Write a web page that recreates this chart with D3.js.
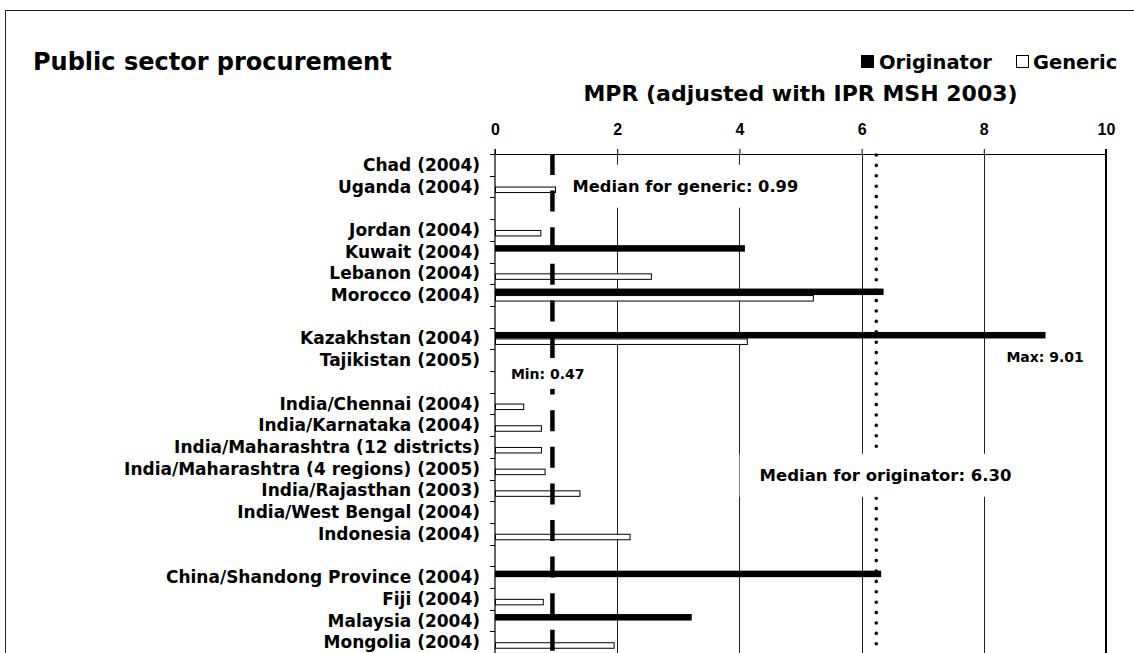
<!DOCTYPE html>
<html>
<head>
<meta charset="utf-8">
<title>Public sector procurement</title>
<style>
  body{margin:0;background:#fff;}
  svg{display:block;font-family:"DejaVu Sans",Verdana,sans-serif;font-weight:bold;}
  .frame{fill:none;stroke:#222;stroke-width:1;}
  .grid{stroke:#222;stroke-width:1;}
  .axis path,.axis line{stroke:#000;}
  .rowlab{font-size:17px;}
  .orig{fill:#000;}
  .gen{fill:#fff;stroke:#000;stroke-width:1;}
</style>
<script src="https://cdn.jsdelivr.net/npm/d3@7"></script>
</head>
<body>
<svg width="1134" height="653"></svg>
<script>
// rows of the chart, "" = blank spacer row
var labels = ["Chad (2004)", "Uganda (2004)", "",
  "Jordan (2004)", "Kuwait (2004)", "Lebanon (2004)", "Morocco (2004)", "",
  "Kazakhstan (2004)", "Tajikistan (2005)", "",
  "India/Chennai (2004)", "India/Karnataka (2004)", "India/Maharashtra (12 districts)",
  "India/Maharashtra (4 regions) (2005)", "India/Rajasthan (2003)", "India/West Bengal (2004)",
  "Indonesia (2004)", "",
  "China/Shandong Province (2004)", "Fiji (2004)", "Malaysia (2004)", "Mongolia (2004)"];

var originator = [null, null, null,
  null, 4.09, null, 6.36, null,
  9.01, null, null,
  null, null, null, null, null, null, null, null,
  6.32, null, 3.22, null];

var generic = [null, 0.99, null,
  0.75, null, 2.56, 5.21, null,
  4.13, null, null,
  0.47, 0.76, 0.76, 0.82, 1.39, null, 2.21, null,
  null, 0.79, null, 1.95];

var xTicks = [0, 2, 4, 6, 8, 10];
var genericMedianAt = 0.94;     // where the dashed line sits
var originatorMedianAt = 6.24;  // where the dotted line sits

var svg = d3.select("svg");
var mLeft = 495, mRight = 1106, mTop = 154, rowH = 21.7;
var mBottom = mTop + labels.length * rowH;

svg.append("rect").attr("class", "frame")
   .attr("x", 5.5).attr("y", 10.5).attr("width", 1200).attr("height", 800);

svg.append("text").attr("x", 33).attr("y", 62).attr("dy", "0.35em")
   .style("font-size", "24px").text("Public sector procurement");

// legend
var lg = svg.append("g").attr("transform", "translate(0,62)");
lg.append("rect").attr("x", 861).attr("y", -7).attr("width", 13).attr("height", 13).attr("fill", "#000");
lg.append("text").attr("x", 879).attr("dy", "0.35em").style("font-size", "19.5px").text("Originator");
lg.append("rect").attr("x", 1016.5).attr("y", -6.5).attr("width", 12).attr("height", 12)
  .attr("fill", "#fff").attr("stroke", "#000");
lg.append("text").attr("x", 1033).attr("dy", "0.35em").style("font-size", "19.5px").text("Generic");

var x = d3.scaleLinear().domain([0, 10]).range([mLeft, mRight]);
var y = d3.scaleBand().domain(d3.range(labels.length)).range([mTop, mBottom]);
var sub = d3.scaleBand().domain(["o", "g"]).range([0, y.bandwidth()]).paddingOuter(0.67);

svg.append("text").attr("x", (mLeft + mRight) / 2).attr("y", 93).attr("dy", "0.35em")
   .attr("text-anchor", "middle").style("font-size", "22px")
   .text("MPR (adjusted with IPR MSH 2003)");

// gridlines
svg.append("g").selectAll("line").data(xTicks.slice(1, -1)).enter().append("line")
   .attr("class", "grid")
   .attr("x1", function(d) { return Math.round(x(d)) + 0.5; })
   .attr("x2", function(d) { return Math.round(x(d)) + 0.5; })
   .attr("y1", mTop).attr("y2", mBottom);

// right border
svg.append("line").attr("x1", x(10)).attr("x2", x(10)).attr("y1", mTop - 5).attr("y2", mBottom)
   .attr("stroke", "#000").attr("stroke-width", 2);

// top axis
var xAxis = svg.append("g").attr("class", "axis").attr("transform", "translate(0," + mTop + ")")
   .call(d3.axisTop(x).tickValues(xTicks).tickSize(5).tickSizeOuter(0));
xAxis.selectAll("text").style("font-size", "16px").style("font-family", "inherit")
   .attr("dy", "0.35em").attr("y", -25).attr("fill", "#000");
xAxis.select(".domain").attr("stroke-width", 1.2);

// left axis with ticks on row boundaries
var ly = svg.append("g");
ly.append("line").attr("x1", mLeft).attr("x2", mLeft).attr("y1", mTop - 5).attr("y2", mBottom)
  .attr("stroke", "#000").attr("stroke-width", 1.2);
ly.selectAll(".tk").data(d3.range(labels.length + 1)).enter().append("line")
  .attr("x1", mLeft - 5).attr("x2", mLeft)
  .attr("y1", function(i) { return Math.round(mTop + i * rowH) + 0.5; })
  .attr("y2", function(i) { return Math.round(mTop + i * rowH) + 0.5; })
  .attr("stroke", "#000");
ly.selectAll(".rowlab").data(labels).enter().append("text")
  .attr("class", "rowlab")
  .attr("x", 480).attr("text-anchor", "end")
  .attr("y", function(d, i) { return y(i) + y.bandwidth() / 2; })
  .attr("dy", "0.35em")
  .text(function(d) { return d; });

// bars
svg.append("g").selectAll("rect").data(originator.map(function(v, i) { return {v: v, i: i}; })
     .filter(function(d) { return d.v != null; }))
   .enter().append("rect").attr("class", "orig")
   .attr("x", x(0)).attr("y", function(d) { return y(d.i) + sub("o"); })
   .attr("width", function(d) { return x(d.v) - x(0); })
   .attr("height", sub.bandwidth());

svg.append("g").selectAll("rect").data(generic.map(function(v, i) { return {v: v, i: i}; })
     .filter(function(d) { return d.v != null; }))
   .enter().append("rect").attr("class", "gen")
   .attr("x", x(0) + 0.5).attr("y", function(d) { return y(d.i) + sub("g") + 0.5; })
   .attr("width", function(d) { return x(d.v) - x(0) - 0.5; })
   .attr("height", sub.bandwidth() - 1);

// median lines
svg.append("line").attr("x1", x(genericMedianAt)).attr("x2", x(genericMedianAt))
   .attr("y1", mTop).attr("y2", mBottom)
   .attr("stroke", "#000").attr("stroke-width", 4.5).attr("stroke-dasharray", "21,15.6");
svg.append("line").attr("x1", x(originatorMedianAt)).attr("x2", x(originatorMedianAt))
   .attr("y1", mTop + 1).attr("y2", mBottom)
   .attr("stroke", "#000").attr("stroke-width", 3.6).attr("stroke-linecap", "round")
   .attr("stroke-dasharray", "0,10.4");

// annotations with white boxes
function note(txt, vx, py, size, padX, padY) {
  var g = svg.append("g");
  var r = g.append("rect").attr("fill", "#fff");
  var t = g.append("text").attr("x", x(vx)).attr("y", py).attr("dy", "0.35em")
     .style("font-size", size + "px").text(txt);
  var b = t.node().getBBox();
  r.attr("x", b.x - padX).attr("y", b.y - padY)
   .attr("width", b.width + 2 * padX).attr("height", b.height + 2 * padY);
}
note("Median for generic: 0.99", 1.27, 186, 16.3, 8, 12);
note("Min: 0.47", 0.26, 374, 14, 8, 7);
note("Max: 9.01", 8.37, 357, 14, 4, 4);
note("Median for originator: 6.30", 4.33, 475, 16.5, 20, 12);
</script>
</body>
</html>
